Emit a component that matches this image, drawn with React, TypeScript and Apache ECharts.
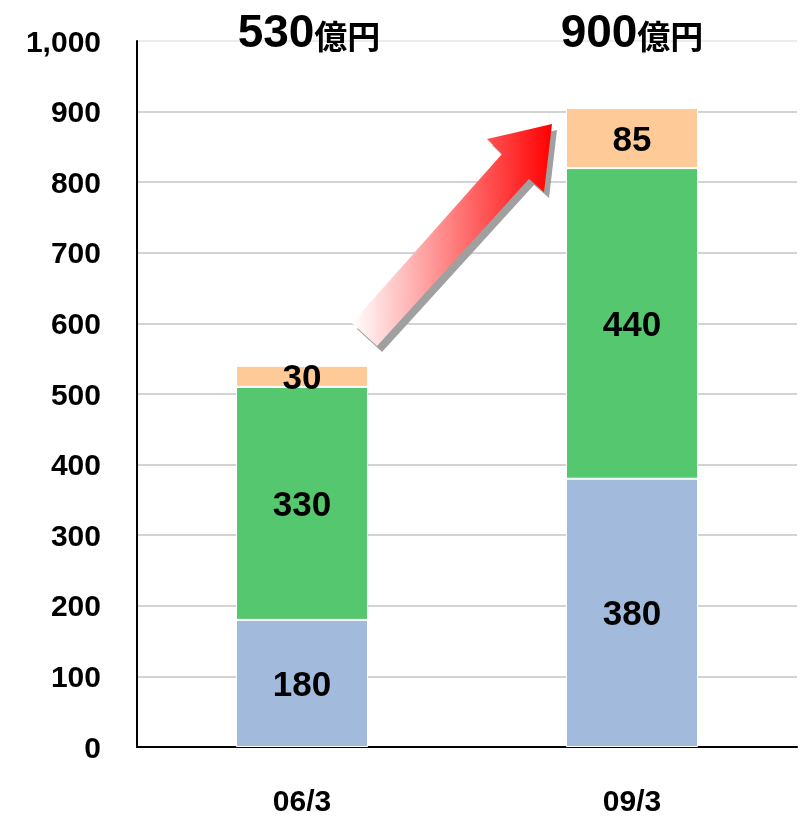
import React, { useEffect, useRef } from "react";
import * as echarts from "echarts";

const categories = ["06/3", "09/3"];
const seriesBlue = [180, 380];
const seriesGreen = [330, 440];
const seriesOrange = [30, 85];
const totalLabels = ["530", "900"];
const unitLabel = "億円";
const yMin = 0;
const yMax = 1000;
const yInterval = 100;

const FONT = "'Liberation Sans', Arial, sans-serif";
const JFONT = "'Noto Sans CJK JP', 'Liberation Sans', sans-serif";

export default function App() {
  const ref = useRef<HTMLDivElement>(null);
  useEffect(() => {
    if (!ref.current) return;
    const chart = echarts.init(ref.current, null, { renderer: "svg" });
    const barLabel = {
      show: true,
      position: "inside",
      color: "#000",
      fontSize: 35,
      fontWeight: "bold",
      fontFamily: FONT,
    };
    const gridColors: string[] = [];
    for (let v = yMin; v <= yMax; v += yInterval) gridColors.push(v === yMax ? "#e6e6e6" : "#c4c4c4");
    chart.setOption({
      animation: false,
      grid: { left: 137, right: 3, top: 41, bottom: 72, containLabel: false },
      xAxis: {
        type: "category",
        data: categories,
        axisLine: { show: true, lineStyle: { color: "#000", width: 2 } },
        axisTick: { show: false },
        axisLabel: {
          color: "#000",
          fontSize: 30,
          lineHeight: 28,
          fontWeight: "bold",
          fontFamily: FONT,
          margin: 39,
        },
      },
      yAxis: {
        type: "value",
        min: yMin,
        max: yMax,
        interval: yInterval,
        axisLine: { show: true, lineStyle: { color: "#000", width: 2 } },
        axisTick: { show: false },
        axisLabel: {
          color: "#000",
          fontSize: 30,
          fontWeight: "bold",
          fontFamily: FONT,
          margin: 36,
          formatter: (v: number) => v.toLocaleString("en-US"),
        },
        splitLine: { show: true, lineStyle: { color: gridColors, width: 1.5 } },
      },
      series: [
        {
          type: "bar",
          stack: "total",
          data: seriesBlue,
          barWidth: "40%",
          itemStyle: { color: "#a2badc", borderColor: "#fff", borderWidth: 1 },
          label: barLabel,
        },
        {
          type: "bar",
          stack: "total",
          data: seriesGreen,
          barWidth: "40%",
          itemStyle: { color: "#55c76e", borderColor: "#fff", borderWidth: 1 },
          label: barLabel,
        },
        {
          type: "bar",
          stack: "total",
          data: seriesOrange,
          barWidth: "40%",
          itemStyle: { color: "#fecb98", borderColor: "#fff", borderWidth: 1 },
          label: barLabel,
        },
      ],
    });

    const labelShift = [7, 0];
    const texts = categories.map((c, i) => {
      const p = chart.convertToPixel({ gridIndex: 0 }, [c, yMax]) as number[];
      return {
        type: "text",
        x: p[0] + labelShift[i],
        y: p[1] - 10,
        style: {
          text: `{n|${totalLabels[i]}}{u|${unitLabel}}`,
          align: "center",
          verticalAlign: "middle",
          rich: {
            n: { fontSize: 46, fontWeight: "bold", fontFamily: FONT, fill: "#000", color: "#000" },
            u: { fontSize: 33, fontWeight: "bold", fontFamily: JFONT, fill: "#000", color: "#000", padding: [8, 0, 0, 0] },
          },
        },
        z: 10,
      };
    });

    const arrowPts: number[][] = [
      [552, 124],
      [544, 192],
      [529, 179],
      [377, 346],
      [352, 323],
      [502, 154],
      [487, 139],
    ];
    const shadowPts = arrowPts.map(([x, y]) => [x + 5, y + 6]);

    chart.setOption({
      graphic: [
        ...texts,
        {
          type: "polygon",
          shape: { points: shadowPts },
          style: { fill: "#a0a0a0" },
          z: 5,
        },
        {
          type: "polygon",
          shape: { points: arrowPts },
          style: {
            fill: new echarts.graphic.LinearGradient(0, 0, 1, 0, [
              { offset: 0, color: "#ffffff" },
              { offset: 1, color: "#ff0000" },
            ]),
          },
          z: 6,
        },
      ],
    });
    return () => chart.dispose();
  }, []);
  return (
    <div
      ref={ref}
      style={{ position: "fixed", left: 0, top: 0, width: 800, height: 819 }}
    />
  );
}
